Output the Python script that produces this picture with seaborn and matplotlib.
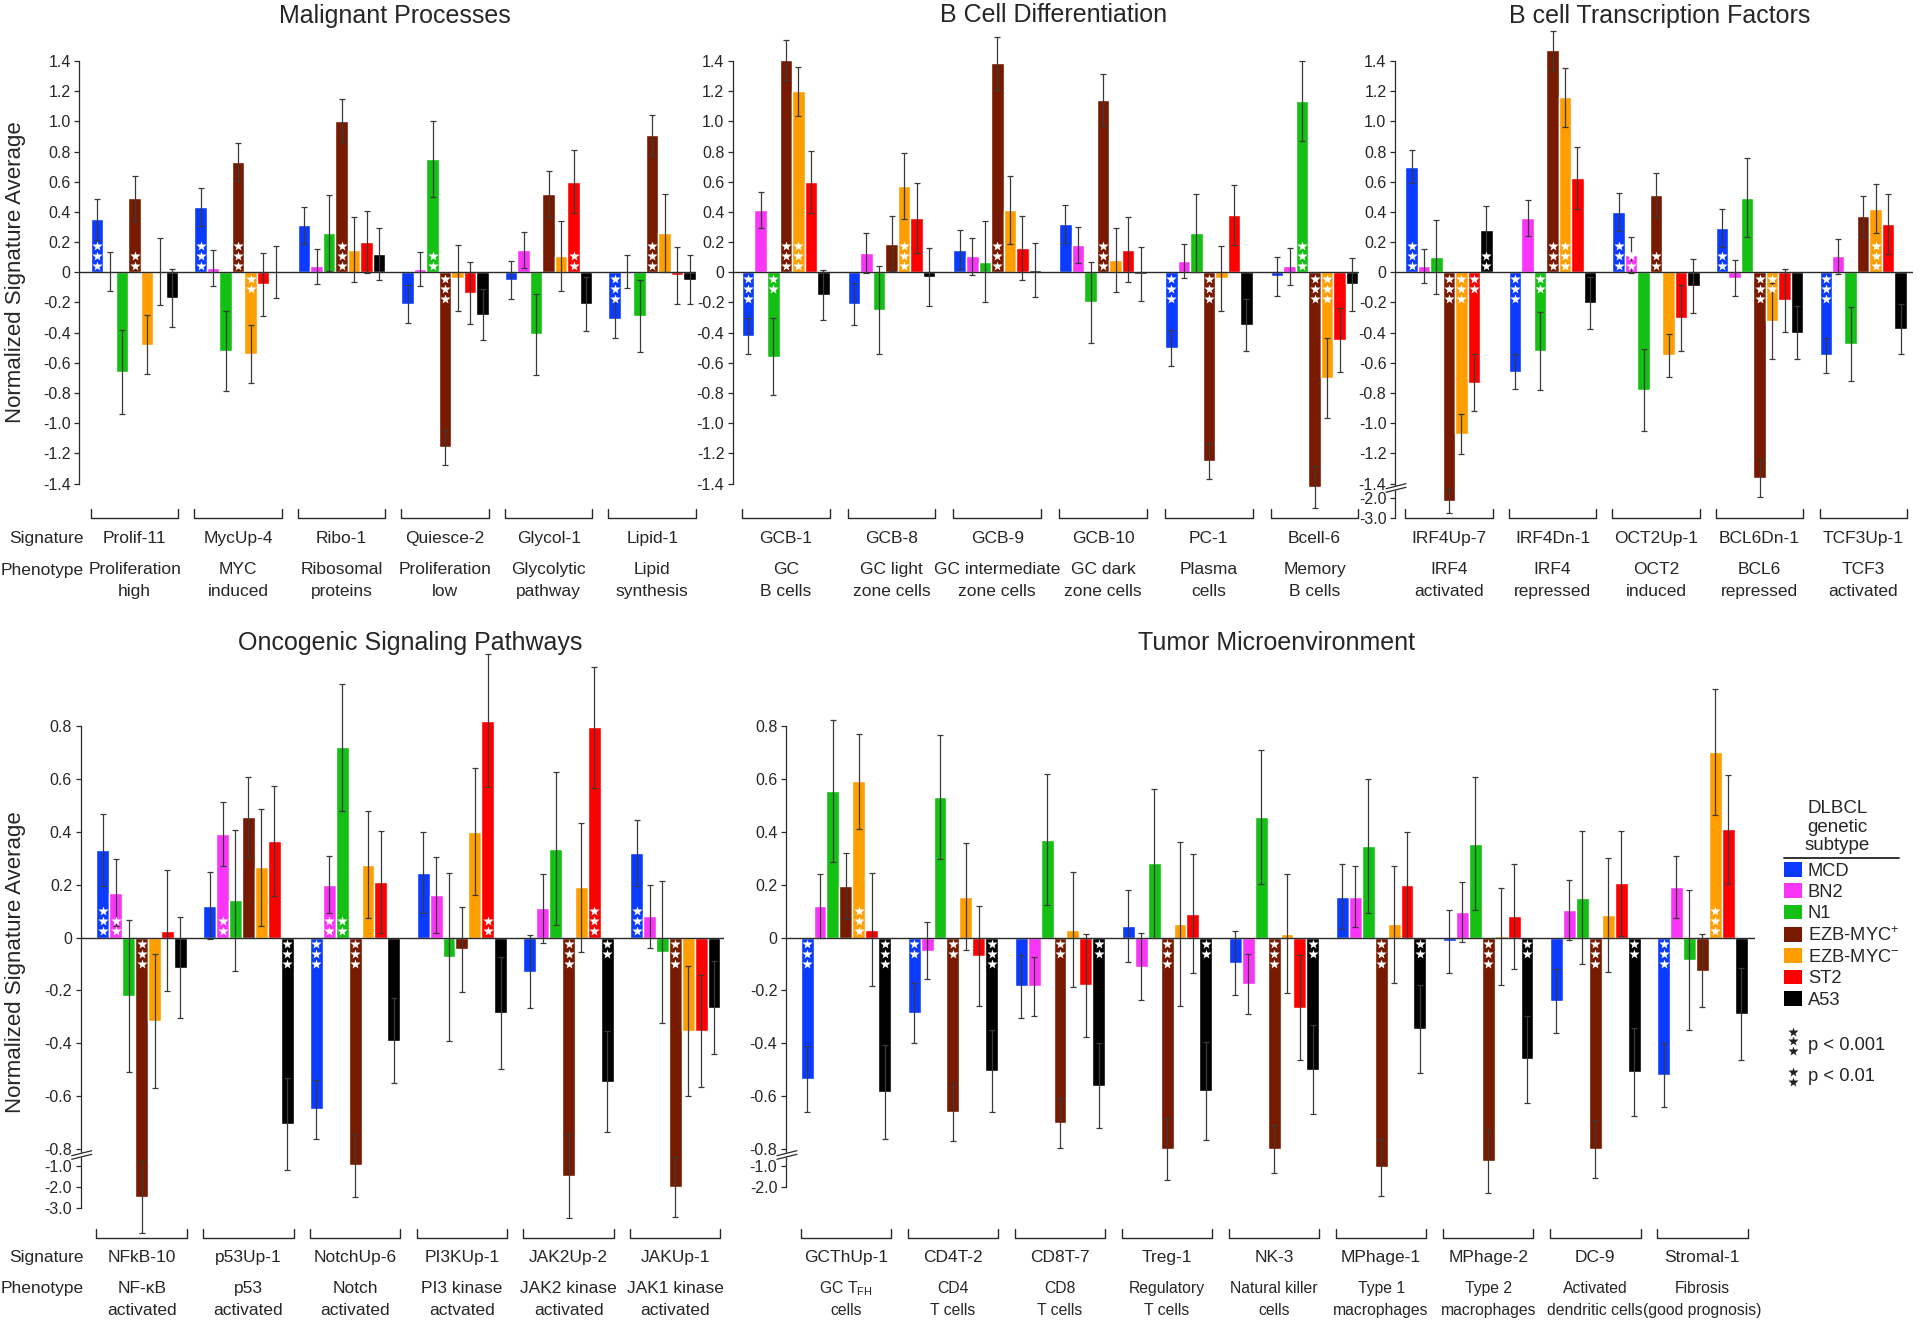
import numpy as np
import pandas as pd
import seaborn as sns
import matplotlib
matplotlib.use("Agg")
import matplotlib.pyplot as plt
from matplotlib import transforms
from matplotlib.lines import Line2D
from matplotlib.patches import Patch

sns.set_style("ticks")
plt.rcParams["font.family"] = ["Liberation Sans", "DejaVu Sans"]
plt.rcParams["mathtext.fontset"] = "custom"
plt.rcParams["mathtext.rm"] = "Liberation Sans"
plt.rcParams["mathtext.it"] = "Liberation Sans:italic"
plt.rcParams["mathtext.bf"] = "Liberation Sans:bold"
plt.rcParams["axes.unicode_minus"] = False

# ==== data ====
SUBTYPES = ["MCD", "BN2", "N1", "EZB-MYC+", "EZB-MYC-", "ST2", "A53"]
LEGEND_LABELS = ["MCD", "BN2", "N1", "EZB-MYC$^{+}$", "EZB-MYC$^{-}$", "ST2", "A53"]
COLORS = ["#0a3bff", "#f936f7", "#13c013", "#771a00", "#ff9e00", "#ff0000", "#000000"]

# values per signature (rows) x subtype (cols); err = half-width of the error bar
# measured on the drawn axis; stars = number of significance asterisks
mal_sigs = ["Prolif-11", "MycUp-4", "Ribo-1", "Quiesce-2", "Glycol-1", "Lipid-1"]
mal_phen = ["Proliferation\nhigh", "MYC\ninduced", "Ribosomal\nproteins",
            "Proliferation\nlow", "Glycolytic\npathway", "Lipid\nsynthesis"]
mal_vals = [[0.35, 0.005, -0.66, 0.49, -0.48, 0.005, -0.17],
            [0.43, 0.03, -0.52, 0.73, -0.54, -0.08, 0.003],
            [0.31, 0.04, 0.26, 1.005, 0.15, 0.20, 0.12],
            [-0.21, 0.02, 0.75, -1.16, -0.04, -0.14, -0.28],
            [-0.05, 0.15, -0.41, 0.52, 0.11, 0.60, -0.21],
            [-0.31, 0.003, -0.29, 0.91, 0.26, -0.02, -0.05]]
mal_err = [[0.135, 0.13, 0.28, 0.15, 0.196, 0.224, 0.19],
           [0.125, 0.118, 0.263, 0.127, 0.19, 0.207, 0.173],
           [0.122, 0.117, 0.253, 0.143, 0.215, 0.204, 0.171],
           [0.126, 0.114, 0.253, 0.117, 0.218, 0.205, 0.171],
           [0.127, 0.12, 0.267, 0.154, 0.232, 0.21, 0.179],
           [0.123, 0.11, 0.238, 0.135, 0.256, 0.19, 0.162]]
mal_star = [[3, 0, 0, 2, 0, 0, 0],
            [3, 0, 0, 3, 2, 0, 0],
            [0, 0, 0, 3, 0, 0, 0],
            [0, 0, 2, 3, 0, 0, 0],
            [0, 0, 0, 0, 0, 2, 0],
            [3, 0, 0, 3, 0, 0, 0]]

bcd_sigs = ["GCB-1", "GCB-8", "GCB-9", "GCB-10", "PC-1", "Bcell-6"]
bcd_phen = ["GC\nB cells", "GC light\nzone cells", "GC intermediate\nzone cells",
            "GC dark\nzone cells", "Plasma\ncells", "Memory\nB cells"]
bcd_vals = [[-0.42, 0.41, -0.56, 1.405, 1.20, 0.60, -0.15],
            [-0.21, 0.125, -0.25, 0.19, 0.57, 0.36, -0.03],
            [0.15, 0.105, 0.07, 1.385, 0.41, 0.16, 0.015],
            [0.32, 0.18, -0.20, 1.14, 0.08, 0.15, -0.01],
            [-0.50, 0.075, 0.26, -1.25, -0.04, 0.38, -0.35],
            [-0.025, 0.04, 1.135, -1.42, -0.70, -0.45, -0.08]]
bcd_err = [[0.12, 0.119, 0.256, 0.132, 0.162, 0.205, 0.168],
           [0.137, 0.132, 0.29, 0.18, 0.22, 0.232, 0.194],
           [0.127, 0.123, 0.268, 0.176, 0.225, 0.213, 0.177],
           [0.127, 0.119, 0.267, 0.172, 0.211, 0.214, 0.178],
           [0.119, 0.115, 0.257, 0.121, 0.215, 0.2, 0.17],
           [0.129, 0.122, 0.265, 0.14, 0.262, 0.213, 0.177]]
bcd_star = [[3, 0, 2, 3, 3, 0, 0],
            [0, 0, 0, 0, 3, 0, 0],
            [0, 0, 0, 3, 0, 0, 0],
            [0, 0, 0, 3, 0, 0, 0],
            [3, 0, 0, 3, 0, 0, 0],
            [0, 0, 3, 3, 3, 0, 0]]

tf_sigs = ["IRF4Up-7", "IRF4Dn-1", "OCT2Up-1", "BCL6Dn-1", "TCF3Up-1"]
tf_phen = ["IRF4\nactivated", "IRF4\nrepressed", "OCT2\ninduced",
           "BCL6\nrepressed", "TCF3\nactivated"]
tf_vals = [[0.70, 0.04, 0.10, -2.14, -1.07, -0.73, 0.28],
           [-0.66, 0.36, -0.52, 1.47, 1.16, 0.625, -0.205],
           [0.40, 0.115, -0.78, 0.51, -0.55, -0.30, -0.09],
           [0.295, -0.04, 0.495, -1.365, -0.32, -0.185, -0.40],
           [-0.55, 0.105, -0.475, 0.37, 0.42, 0.32, -0.375]]
tf_err = [[0.111, 0.112, 0.247, 0.081, 0.132, 0.191, 0.16],
          [0.116, 0.12, 0.26, 0.129, 0.195, 0.206, 0.171],
          [0.128, 0.122, 0.273, 0.147, 0.142, 0.218, 0.181],
          [0.127, 0.119, 0.263, 0.122, 0.252, 0.21, 0.175],
          [0.114, 0.117, 0.248, 0.136, 0.163, 0.197, 0.166]]
tf_star = [[3, 0, 0, 3, 3, 2, 2],
           [3, 0, 2, 3, 3, 0, 0],
           [3, 2, 0, 2, 0, 0, 0],
           [2, 0, 0, 3, 2, 0, 0],
           [3, 0, 0, 0, 3, 0, 0]]

onc_sigs = ["NFkB-10", "p53Up-1", "NotchUp-6", "PI3KUp-1", "JAK2Up-2", "JAKUp-1"]
onc_phen = ["NF-κB\nactivated", "p53\nactivated", "Notch\nactivated",
            "PI3 kinase\nactvated", "JAK2 kinase\nactivated", "JAK1 kinase\nactivated"]
onc_vals = [[0.33, 0.17, -0.22, -2.47, -0.315, 0.025, -0.115],
            [0.12, 0.39, 0.14, 0.455, 0.265, 0.365, -0.705],
            [-0.65, 0.20, 0.72, -0.99, 0.275, 0.21, -0.39],
            [0.245, 0.16, -0.075, -0.045, 0.40, 0.82, -0.285],
            [-0.13, 0.11, 0.335, -1.46, 0.19, 0.795, -0.545],
            [0.32, 0.08, -0.055, -1.97, -0.355, -0.355, -0.265]]
onc_err = [[0.137, 0.126, 0.288, 0.137, 0.254, 0.229, 0.191],
           [0.126, 0.121, 0.267, 0.152, 0.221, 0.209, 0.173],
           [0.113, 0.109, 0.24, 0.12, 0.202, 0.192, 0.161],
           [0.152, 0.144, 0.318, 0.161, 0.239, 0.25, 0.211],
           [0.138, 0.131, 0.289, 0.16, 0.244, 0.229, 0.192],
           [0.126, 0.12, 0.268, 0.113, 0.246, 0.212, 0.176]]
onc_star = [[3, 2, 0, 3, 0, 0, 0],
            [0, 2, 0, 0, 0, 0, 3],
            [3, 2, 2, 3, 0, 0, 0],
            [0, 0, 0, 0, 0, 2, 0],
            [0, 0, 0, 3, 0, 3, 2],
            [3, 0, 0, 3, 0, 0, 0]]

tme_sigs = ["GCThUp-1", "CD4T-2", "CD8T-7", "Treg-1", "NK-3",
            "MPhage-1", "MPhage-2", "DC-9", "Stromal-1"]
tme_phen = ["GC T$_{\\mathrm{FH}}$\ncells", "CD4\nT cells", "CD8\nT cells",
            "Regulatory\nT cells", "Natural killer\ncells", "Type 1\nmacrophages",
            "Type 2\nmacrophages", "Activated\ndendritic cells", "Fibrosis\n(good prognosis)"]
tme_vals = [[-0.535, 0.12, 0.555, 0.195, 0.59, 0.03, -0.585],
            [-0.285, -0.05, 0.53, -0.66, 0.155, -0.07, -0.505],
            [-0.185, -0.185, 0.37, -0.70, 0.03, -0.18, -0.56],
            [0.045, -0.11, 0.28, -0.80, 0.05, 0.09, -0.58],
            [-0.095, -0.175, 0.455, -0.80, 0.015, -0.265, -0.50],
            [0.155, 0.155, 0.345, -1.04, 0.05, 0.20, -0.345],
            [-0.015, 0.095, 0.355, -0.94, 0.005, 0.08, -0.46],
            [-0.24, 0.105, 0.15, -0.80, 0.085, 0.205, -0.51],
            [-0.52, 0.19, -0.085, -0.125, 0.70, 0.41, -0.29]]
tme_err = [[0.126, 0.12, 0.269, 0.125, 0.18, 0.214, 0.178],
           [0.113, 0.108, 0.235, 0.108, 0.204, 0.188, 0.156],
           [0.119, 0.112, 0.248, 0.094, 0.219, 0.195, 0.162],
           [0.136, 0.128, 0.283, 0.116, 0.31, 0.225, 0.186],
           [0.121, 0.114, 0.253, 0.091, 0.226, 0.2, 0.168],
           [0.124, 0.115, 0.254, 0.108, 0.221, 0.2, 0.167],
           [0.12, 0.113, 0.25, 0.119, 0.184, 0.198, 0.165],
           [0.121, 0.113, 0.252, 0.109, 0.214, 0.199, 0.166],
           [0.121, 0.117, 0.263, 0.139, 0.238, 0.206, 0.173]]
tme_star = [[3, 0, 0, 0, 3, 0, 3],
            [2, 0, 0, 2, 0, 0, 3],
            [0, 0, 0, 2, 0, 0, 2],
            [0, 0, 0, 3, 0, 0, 2],
            [0, 0, 0, 3, 0, 0, 2],
            [0, 0, 0, 3, 0, 0, 2],
            [0, 0, 0, 3, 0, 0, 2],
            [0, 0, 0, 3, 0, 0, 2],
            [3, 0, 0, 0, 3, 0, 0]]

top_ticks = [1.4, 1.2, 1.0, 0.8, 0.6, 0.4, 0.2, 0, -0.2, -0.4, -0.6, -0.8, -1.0, -1.2, -1.4]
tf_ticks = top_ticks + [-2.0, -3.0]
onc_ticks = [0.8, 0.6, 0.4, 0.2, 0, -0.2, -0.4, -0.6, -0.8, -1.0, -2.0, -3.0]
tme_ticks = onc_ticks[:-1]

legend_title = ["DLBCL", "genetic", "subtype"]
pval_stars = [3, 2]
pval_labels = ["p < 0.001", "p < 0.01"]

# ==== layout ====
W, H = 1920, 1326
ERR_COLOR = "#3a3a3a"
LINE_COLOR = "#2a2a2a"
# broken axis: data value -> position on a linear axis
TOP_BREAK = ([-10, -3.0, -2.0, -1.4, 10], [-2.521, -1.625, -1.497, -1.4, 10])
BOT_BREAK = ([-10, -3.0, -2.0, -1.0, -0.8, 10], [-1.561, -1.022, -0.945, -0.865, -0.8, 10])

fig = plt.figure(figsize=(W / 100, H / 100), dpi=100)


def fx(px):
    return px / W


def fy(px):
    return 1 - px / H


def draw_panel(rect, sigs, phen, vals, errs, stars, width, xlim, ylim, ticks,
               spine_lo, spine_hi, brk=None, break_y=None, phen_size=12.5):
    x0, x1, ytop, ybot = rect
    ax = fig.add_axes([fx(x0), fy(ybot), (x1 - x0) / W, (ybot - ytop) / H])
    ax.set_facecolor("none")

    df = pd.DataFrame({
        "signature": [s for s in sigs for _ in SUBTYPES],
        "subtype": [t for _ in sigs for t in SUBTYPES],
        "value": [v for row in vals for v in row],
    })
    sns.barplot(data=df, x="signature", y="value", hue="subtype", order=sigs,
                hue_order=SUBTYPES, palette=COLORS, width=width, saturation=1,
                errorbar=None, legend=False, ax=ax, zorder=2)
    bars = [p for c in ax.containers for p in c.patches]

    if brk is not None:
        xp, fp = np.array(brk[0]), np.array(brk[1])
        fwd = lambda y: np.interp(y, xp, fp)
        inv = lambda y: np.interp(y, fp, xp)
        ax.set_yscale("function", functions=(fwd, inv))
    else:
        fwd = inv = lambda y: y

    ax.set_xlim(*xlim)
    ax.set_ylim(inv(ylim[0]), inv(ylim[1]))
    ax.axhline(0, color=LINE_COLOR, lw=1.0, zorder=2.5)

    step = width / len(SUBTYPES)
    edges = {}
    for bar in bars:
        xc = bar.get_x() + bar.get_width() / 2
        g = int(round(xc))
        k = int(round((xc - g) / step + (len(SUBTYPES) - 1) / 2))
        lo_e, hi_e = edges.get(g, (np.inf, -np.inf))
        edges[g] = (min(lo_e, bar.get_x()), max(hi_e, bar.get_x() + bar.get_width()))
        v, e = vals[g][k], errs[g][k]
        lo, hi = float(inv(fwd(v) - e)), float(inv(fwd(v) + e))
        ax.errorbar(xc, v, yerr=[[v - lo], [hi - v]], fmt="none", ecolor=ERR_COLOR,
                    elinewidth=0.9, capsize=2.4, capthick=0.9, zorder=3)
        sgn = 1 if v >= 0 else -1
        for s in range(stars[g][k]):
            tr = transforms.offset_copy(ax.transData, fig=fig, x=0,
                                        y=sgn * (6.5 + 10 * s), units="dots")
            ax.plot(xc, 0, marker="*", ms=7.6, color="white", mec="none",
                    transform=tr, zorder=4, clip_on=False)

    # brackets, signature names and phenotypes below each group
    blend = transforms.blended_transform_factory(ax.transData, ax.transAxes)
    tick_h = 9 / (ybot - ytop)
    for g, sig in enumerate(sigs):
        left, right = edges[g]
        ax.plot([left, left, right, right], [tick_h, 0, 0, tick_h], transform=blend,
                color=LINE_COLOR, lw=1.0, clip_on=False, zorder=5)
        ax.annotate(sig, xy=(g, 0), xycoords=blend, xytext=(0, -24.5),
                    textcoords="offset pixels", ha="center", va="baseline", fontsize=12.5)
        for j, line in enumerate(phen[g].split("\n")):
            ax.annotate(line, xy=(g, 0), xycoords=blend, xytext=(0, -55.7 - 21.7 * j),
                        textcoords="offset pixels", ha="center", va="baseline",
                        fontsize=phen_size)

    ax.set_yticks(ticks)
    ax.set_yticklabels(["0" if t == 0 else f"{t:.1f}" for t in ticks])
    ax.tick_params(axis="y", direction="out", length=3.6, width=0.9, pad=2.6,
                   labelsize=11.5, color=LINE_COLOR)
    ax.tick_params(axis="x", bottom=False, labelbottom=False)
    ax.set_xlabel("")
    ax.set_ylabel("")
    sns.despine(ax=ax, bottom=True)
    ax.spines["left"].set_bounds(spine_lo, spine_hi)
    ax.spines["left"].set_linewidth(0.9)
    ax.spines["left"].set_color(LINE_COLOR)

    if break_y is not None:
        for dy, col, lw in [(0, "white", 3.2), (-1.8, LINE_COLOR, 0.9), (1.8, LINE_COLOR, 0.9)]:
            fig.add_artist(Line2D([fx(x0 - 9), fx(x0 + 11)],
                                  [fy(break_y + dy + 2.5), fy(break_y + dy - 2.5)],
                                  transform=fig.transFigure, color=col, lw=lw, zorder=10))
    return ax


# top row: zero at y=272.3 px, 151 px per unit; bottom row: zero at 937.5 px, 264.5 px per unit
draw_panel((79.3, 695.5, 20, 518.4), mal_sigs, mal_phen, mal_vals, mal_err, mal_star,
           0.845, (-0.535, 5.418), (-1.63, 1.671), top_ticks, -1.4, 1.4)
draw_panel((732.9, 1358.7, 20, 518.4), bcd_sigs, bcd_phen, bcd_vals, bcd_err, bcd_star,
           0.829, (-0.5, 5.417), (-1.63, 1.671), top_ticks, -1.4, 1.4)
draw_panel((1395, 1913.4, 20, 518.4), tf_sigs, tf_phen, tf_vals, tf_err, tf_star,
           0.843, (-0.521, 4.485), (-1.63, 1.671), tf_ticks, -3.0, 1.4,
           brk=TOP_BREAK, break_y=488)
draw_panel((80.7, 724, 650, 1237.7), onc_sigs, onc_phen, onc_vals, onc_err, onc_star,
           0.846, (-0.571, 5.456), (-1.135, 1.087), onc_ticks, -3.0, 0.8,
           brk=BOT_BREAK, break_y=1155)
draw_panel((785.9, 1755, 650, 1237.7), tme_sigs, tme_phen, tme_vals, tme_err, tme_star,
           0.846, (-0.56, 8.492), (-1.135, 1.087), tme_ticks, -2.0, 0.8,
           brk=BOT_BREAK, break_y=1155, phen_size=11.3)

# panel titles
for txt, x, y in [("Malignant Processes", 395, 22.5), ("B Cell Differentiation", 1054, 22.5),
                  ("B cell Transcription Factors", 1660, 22.5),
                  ("Oncogenic Signaling Pathways", 410, 650),
                  ("Tumor Microenvironment", 1276, 650)]:
    fig.text(fx(x), fy(y), txt, ha="center", va="baseline", fontsize=18)

# y labels and row labels
for yc in (271.7, 962):
    fig.text(fx(15.6), fy(yc), "Normalized Signature Average", rotation=90,
             ha="center", va="center", fontsize=16)
for yb in (518.8, 1237.7):
    fig.text(fx(84), fy(yb + 24.5), "Signature", ha="right", va="baseline", fontsize=12.5)
    fig.text(fx(84), fy(yb + 55.7), "Phenotype", ha="right", va="baseline", fontsize=12.5)

# legend
handles = [Patch(facecolor=c, edgecolor="none") for c in COLORS]
fig.legend(handles, LEGEND_LABELS, loc="upper left", bbox_to_anchor=(fx(1784.3), fy(862)),
           frameon=False, fontsize=13.2, handlelength=0.98, handleheight=0.85,
           handletextpad=0.3, labelspacing=0.2, borderpad=0, borderaxespad=0)
for j, line in enumerate(legend_title):
    fig.text(fx(1837.2), fy(813.3 + 18.4 * j), line, ha="center", va="baseline", fontsize=13.5)
fig.add_artist(Line2D([fx(1784.3), fx(1899.3)], [fy(858), fy(858)],
                      transform=fig.transFigure, color="#222222", lw=1.3))
for n, lab, yb in zip(pval_stars, pval_labels, (1050, 1080.7)):
    for s in range(n):
        fig.add_artist(Line2D([fx(1793.3)], [fy(yb + 1 - 9.6 * s)], transform=fig.transFigure,
                              marker="*", ms=7.6, color="#222222", mec="none", ls="none"))
    fig.text(fx(1807.7), fy(yb), lab, ha="left", va="baseline", fontsize=13.2)

fig.savefig("out.png", dpi=100)
